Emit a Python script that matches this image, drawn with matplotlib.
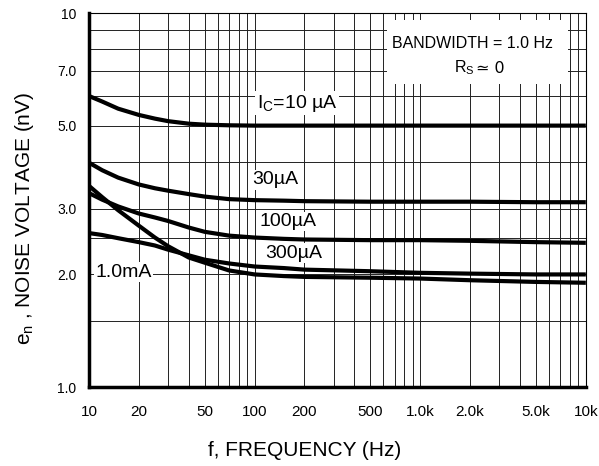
import matplotlib
matplotlib.use('Agg')
import matplotlib.pyplot as plt
from matplotlib.patches import Rectangle

plt.rcParams['font.family'] = ['Liberation Sans', 'DejaVu Sans']
plt.rcParams['mathtext.fontset'] = 'custom'
plt.rcParams['mathtext.rm'] = 'Liberation Sans'
plt.rcParams['mathtext.it'] = 'Liberation Sans'

# frequency points (Hz)
freq = [10, 12, 15, 20, 25, 30, 40, 50, 70, 100, 150, 200, 500, 1000, 2000, 5000, 10000]

# noise voltage (nV) per collector current
en_10uA = [6.0, 5.8, 5.55, 5.34, 5.22, 5.14, 5.06, 5.03, 5.01, 5.0, 5.0, 5.0, 5.0, 5.0, 5.0, 5.0, 5.0]
en_30uA = [3.98, 3.80, 3.63, 3.48, 3.40, 3.35, 3.28, 3.23, 3.18, 3.16, 3.15, 3.14, 3.13, 3.13, 3.13, 3.12, 3.12]
en_100uA = [3.30, 3.17, 3.04, 2.91, 2.84, 2.78, 2.67, 2.60, 2.54, 2.51, 2.49, 2.48, 2.47, 2.47, 2.46, 2.44, 2.43]
en_300uA = [2.58, 2.55, 2.50, 2.44, 2.39, 2.33, 2.25, 2.19, 2.14, 2.10, 2.08, 2.06, 2.04, 2.02, 2.01, 2.0, 2.0]
en_1mA = [3.45, 3.22, 2.97, 2.70, 2.51, 2.38, 2.22, 2.15, 2.05, 2.00, 1.98, 1.97, 1.96, 1.95, 1.93, 1.91, 1.90]

curves = [en_10uA, en_30uA, en_100uA, en_300uA, en_1mA]
labels = ['I$_{\\rm C}$=10 \u00b5A', '30\u00b5A', '100\u00b5A', '300\u00b5A', '1.0mA']
label_pos = [(102.8, 5.74), (97.2, 3.58), (106.6, 2.77), (115.4, 2.28), (10.87, 2.03)]

xticks = [10, 20, 50, 100, 200, 500, 1000, 2000, 5000, 10000]
xticklabels = ['10', '20', '50', '100', '200', '500', '1.0k', '2.0k', '5.0k', '10k']
yticks = [1, 2, 3, 5, 7, 10]
yticklabels = ['1.0', '2.0', '3.0', '5.0', '7.0', '10']

fig = plt.figure(figsize=(5.99, 4.66), dpi=100)
ax = fig.add_axes([0.1486, 0.1695, 0.978 - 0.1486, 0.972 - 0.1695])
ax.set_xscale('log')
ax.set_yscale('log')
ax.set_xlim(10, 10000)
ax.set_ylim(1, 10)

# grid lines
xgrid = [m * 10 ** d for d in range(1, 4) for m in range(1, 10)] + [10000]
ygrid = [1.5, 2, 2.5, 3, 4, 5, 6, 7, 8, 9]
for xv in xgrid:
    ax.axvline(xv, color='#222222', lw=0.7, zorder=0.5)
for yv in ygrid:
    ax.axhline(yv, color='#222222', lw=0.7, zorder=0.5)

for yv in curves:
    ax.plot(freq, yv, color='black', lw=3.0, solid_joinstyle='round',
            solid_capstyle='butt', zorder=2)

for txt, (fx, fy) in zip(labels, label_pos):
    ax.text(fx, fy, txt, fontsize=14, ha='left', va='center', zorder=3,
            bbox=dict(facecolor='white', edgecolor='none', pad=1.0))

# info box
ax.add_patch(Rectangle((0.5996, 0.810), 0.9638 - 0.5996, 0.981 - 0.810,
                       transform=ax.transAxes, facecolor='white',
                       edgecolor='none', zorder=1))
ax.text(0.771, 0.919, 'BANDWIDTH = 1.0 Hz', transform=ax.transAxes,
        fontsize=11.5, ha='center', va='center', zorder=3)
ax.text(0.734, 0.853, 'R$_{\\rm S}$', transform=ax.transAxes,
        fontsize=11.5, ha='left', va='center', zorder=3)
ax.text(0.779, 0.853, '\u2243 0', transform=ax.transAxes, family='DejaVu Sans',
        fontsize=11.5, ha='left', va='center', zorder=3)

ax.set_xticks(xticks)
ax.set_xticklabels(xticklabels)
ax.set_xticks([], minor=True)
ax.set_yticks(yticks)
ax.set_yticklabels(yticklabels)
ax.set_yticks([], minor=True)
ax.tick_params(axis='x', length=0, pad=13, labelsize=11)
ax.tick_params(axis='y', length=0, pad=9, labelsize=10)

ax.spines['left'].set_linewidth(2.5)
ax.spines['bottom'].set_linewidth(2.5)
ax.spines['top'].set_linewidth(0.8)
ax.spines['right'].set_linewidth(0.8)

ax.set_xlabel('f, FREQUENCY (Hz)', fontsize=15)
ax.set_ylabel('e$_{\\rm n}$ , NOISE VOLTAGE (nV)', fontsize=15)
ax.xaxis.set_label_coords(0.433, -0.144)
ax.yaxis.set_label_coords(-0.107, 0.452)

fig.savefig('out.png', dpi=100)
